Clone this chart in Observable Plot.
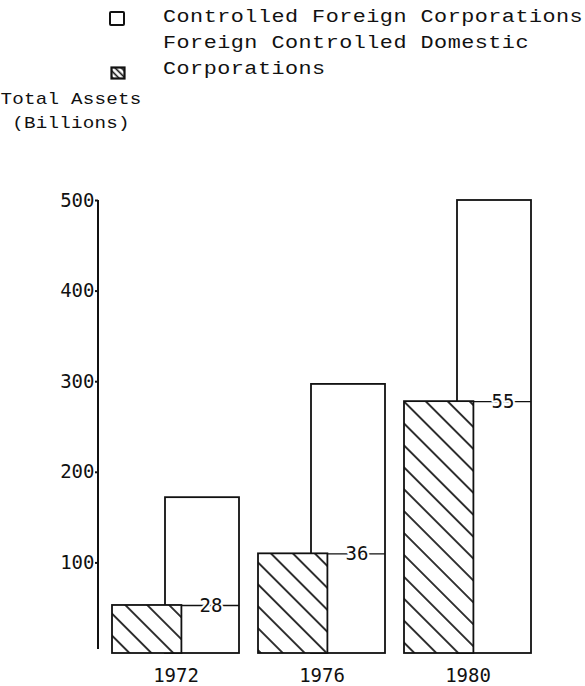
<!DOCTYPE html>
<html>
<head>
<meta charset="utf-8">
<script src="https://cdn.jsdelivr.net/npm/d3@7"></script>
<script src="https://cdn.jsdelivr.net/npm/@observablehq/plot@0.6"></script>
<style>
  body { margin: 0; background: #fff; width: 585px; height: 686px; overflow: hidden; }
  #head { position: relative; height: 140px; font-family: "Liberation Mono", monospace; color: #111; }
  .lg { position: absolute; font-size: 18px; line-height: 22px; letter-spacing: 0.4px; white-space: nowrap; transform: scaleX(1.21); transform-origin: 0 50%; }
  .yt { position: absolute; font-size: 17px; line-height: 20px; letter-spacing: 0.2px; white-space: nowrap; width: 130px; text-align: center; left: 6px; transform: scaleX(1.13); transform-origin: 50% 50%; }
  .box { position: absolute; width: 12px; height: 11px; border: 2px solid #111; border-radius: 2px; background: #fff; }
</style>
</head>
<body>
<svg width="0" height="0" style="position:absolute">
  <defs>
    <pattern id="hatch" patternUnits="userSpaceOnUse" width="15.5" height="15.5" patternTransform="rotate(-45)">
      <rect width="15.5" height="15.5" fill="white"></rect>
      <line x1="7.75" y1="0" x2="7.75" y2="15.5" stroke="#111" stroke-width="1.7"></line>
    </pattern>
    <pattern id="hatchSmall" patternUnits="userSpaceOnUse" width="4.5" height="4.5" patternTransform="rotate(-45)">
      <rect width="4.5" height="4.5" fill="white"></rect>
      <line x1="2.25" y1="0" x2="2.25" y2="4.5" stroke="#111" stroke-width="1.6"></line>
    </pattern>
  </defs>
</svg>
<div id="head">
  <div class="box" style="left:109px; top:11px;"></div>
  <div class="lg" style="left:163px; top:6px;">Controlled Foreign Corporations</div>
  <div class="lg" style="left:163px; top:32px;">Foreign Controlled Domestic</div>
  <svg style="position:absolute; left:110px; top:66px;" width="16" height="14">
    <rect x="1.5" y="1.5" width="13" height="11" fill="url(#hatchSmall)" stroke="#111" stroke-width="2.2"></rect>
  </svg>
  <div class="lg" style="left:163px; top:58px;">Corporations</div>
  <div class="yt" style="top:90px;">Total Assets</div>
  <div class="yt" style="top:114px;">(Billions)</div>
</div>
<div id="chart"></div>
<script>
const years = ["1972", "1976", "1980"];
const controlledForeign = [172, 297, 500];
const foreignControlledDomestic = [53, 110, 278];
const shareLabels = ["28", "36", "55"];
const yTicks = [100, 200, 300, 400, 500];

const data = years.map((year, i) => ({
  year,
  foreign: controlledForeign[i],
  domestic: foreignControlledDomestic[i],
  share: shareLabels[i]
}));

const ink = "#111";

const axisLine = (index, scales, values, dims) => {
  const ns = "http://www.w3.org/2000/svg";
  const l = document.createElementNS(ns, "line");
  l.setAttribute("x1", dims.marginLeft);
  l.setAttribute("x2", dims.marginLeft);
  l.setAttribute("y1", scales.y(500));
  l.setAttribute("y2", scales.y(0) - 4);
  l.setAttribute("stroke", ink);
  l.setAttribute("stroke-width", 2);
  return l;
};

const chart = Plot.plot({
  width: 585,
  height: 546,
  marginLeft: 98,
  marginRight: 53,
  marginTop: 60,
  marginBottom: 33,
  x: { domain: years, paddingInner: 0.13, paddingOuter: 0, insetLeft: 13, label: null },
  y: { domain: [0, 500], label: null },
  style: { fontFamily: "'DejaVu Sans Mono', monospace", fontSize: "19px", background: "white", color: ink },
  marks: [
    Plot.axisY({ ticks: yTicks, tickSize: 3, tickPadding: 1, label: null, stroke: ink, strokeWidth: 2 }),
    Plot.axisX({ tickSize: 0, tickPadding: 15, label: null }),
    axisLine,
    Plot.barY(data, { x: "year", y: "foreign", fill: "white", stroke: ink, strokeWidth: 1.8, insetLeft: 53 }),
    Plot.barY(data, { x: "year", y: "domestic", fill: "url(#hatch)", stroke: ink, strokeWidth: 1.8, insetRight: 57.6 }),
    Plot.tickY(data, { x: "year", y: "domestic", stroke: ink, strokeWidth: 1.4, insetLeft: 70 }),
    Plot.text(data, { x: "year", y: "domestic", text: "share", dx: 35, fill: ink, stroke: "white", strokeWidth: 4, paintOrder: "stroke" })
  ]
});

document.getElementById("chart").appendChild(chart);
</script>
</body>
</html>
